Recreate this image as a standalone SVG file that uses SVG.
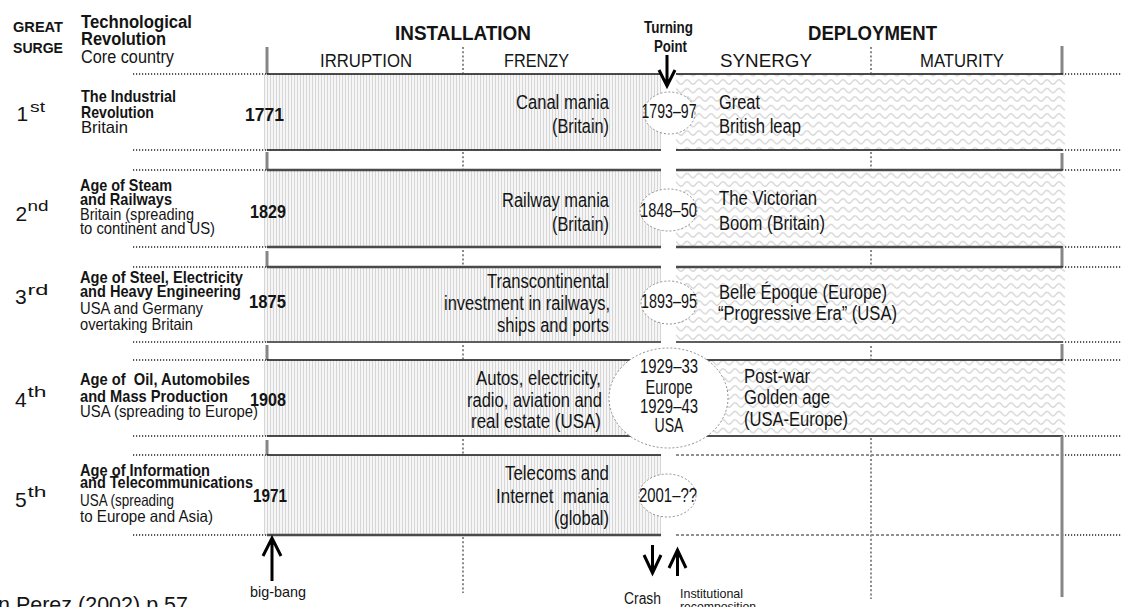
<svg xmlns="http://www.w3.org/2000/svg" width="1122" height="607" viewBox="0 0 1122 607">
  <style>
    .tx { font-family: 'Liberation Sans', Arial, Helvetica, sans-serif; fill: #141414; white-space: pre; }
    .b { font-weight: 700; }
    .hd { font-size: 18px; }
    .ph { font-size: 21px; }
    .sub { font-size: 19px; }
    .tp-l { font-size: 16px; font-weight: 700; }
    .ti { font-size: 17px; }
    .co { font-size: 16.5px; }
    .yr { font-size: 19px; }
    .bd { font-size: 20px; }
    .el { font-size: 20px; }
    .ord { font-size: 21px; }
    .sup { font-size: 15px; }
    .sm { font-size: 13px; }
    .mid { text-anchor: middle; }
    .end { text-anchor: end; }
    .ln-k { stroke: #111; stroke-width: 1.5; }
    .ln-g { stroke: #4a4a4a; stroke-width: 2.5; }
    .ln-m { stroke: #5e5e5e; stroke-width: 2; }
    .dot-h { stroke: #222; stroke-width: 1.4; stroke-dasharray: 1.2 1.8; }
    .dash-h { stroke: #222; stroke-width: 1.2; stroke-dasharray: 3 2; }
    .dot-v { stroke: #8a8a8a; stroke-width: 2; stroke-dasharray: 2 2.2; }
    .bar { stroke: #868686; stroke-width: 3; }
    .tp { fill: #fff; stroke: #8c8c8c; stroke-width: 1; stroke-dasharray: 2 2; }
    .arrow { fill: none; stroke: #000; stroke-width: 3; }
    .inst { fill: url(#stripes); }
    .depl { fill: url(#waves); }
  </style>
  <defs>
    <pattern id="stripes" x="0" y="0" width="3" height="8" patternUnits="userSpaceOnUse">
      <rect width="3" height="8" fill="#f6f6f6"/>
      <rect width="1" height="8" fill="#d6d6d6"/>
    </pattern>
    <pattern id="waves" x="0" y="0" width="12" height="8.5" patternUnits="userSpaceOnUse">
      <rect width="12" height="8.5" fill="#fff"/>
      <path d="M0 5.5 Q3 1 6 5.5 T12 5.5" fill="none" stroke="#d4d4d4" stroke-width="1.3" stroke-linecap="round"/>
    </pattern>
  </defs>

  <rect width="1122" height="607" fill="#fff"/>

  <!-- column headings -->
  <g id="header">
    <text class="tx b" x="13" y="32" font-size="15.5" textLength="50" lengthAdjust="spacingAndGlyphs">GREAT</text>
    <text class="tx b" x="13" y="53" font-size="15.5" textLength="50" lengthAdjust="spacingAndGlyphs">SURGE</text>
    <text class="tx b hd" x="81" y="28" textLength="111" lengthAdjust="spacingAndGlyphs">Technological</text>
    <text class="tx b hd" x="81" y="45" textLength="85" lengthAdjust="spacingAndGlyphs">Revolution</text>
    <text class="tx hd" x="81" y="63" textLength="93" lengthAdjust="spacingAndGlyphs">Core country</text>
    <text class="tx b ph" x="395" y="40" textLength="136" lengthAdjust="spacingAndGlyphs">INSTALLATION</text>
    <text class="tx b ph" x="808" y="40" textLength="129" lengthAdjust="spacingAndGlyphs">DEPLOYMENT</text>
    <text class="tx sub" x="320" y="67" textLength="92" lengthAdjust="spacingAndGlyphs">IRRUPTION</text>
    <text class="tx sub" x="504" y="67" textLength="65" lengthAdjust="spacingAndGlyphs">FRENZY</text>
    <text class="tx sub" x="720" y="67" textLength="92" lengthAdjust="spacingAndGlyphs">SYNERGY</text>
    <text class="tx sub" x="920" y="67" textLength="84" lengthAdjust="spacingAndGlyphs">MATURITY</text>
    <text class="tx tp-l" x="644" y="33" textLength="49" lengthAdjust="spacingAndGlyphs">Turning</text>
    <text class="tx tp-l" x="654" y="52" textLength="33" lengthAdjust="spacingAndGlyphs">Point</text>
    <line class="bar" x1="267" y1="47" x2="267" y2="74"/>
    <line class="bar" x1="1062" y1="46" x2="1062" y2="74"/>
    <line class="dot-v" x1="463" y1="47" x2="463" y2="73"/>
    <line class="dot-v" x1="871" y1="47" x2="871" y2="73"/>
  </g>

  <!-- 1st surge -->
  <g id="row-1">
    <rect class="inst" x="264" y="74" width="397" height="76"/>
    <rect class="depl" x="676" y="74" width="389" height="76"/>
    <path class="ln-k" d="M267 74H661M676 74H1062M267 150H661M676 150H1062"/>
    <path class="dot-h" d="M133 74H267M1062 74H1122M133 150H267M1062 150H1122"/>
    <text class="tx ord" x="16.5" y="120.5">1</text>
    <text class="tx sup" x="30" y="112" textLength="15" lengthAdjust="spacingAndGlyphs">st</text>
    <text class="tx b ti" x="81" y="102" textLength="95" lengthAdjust="spacingAndGlyphs">The Industrial</text>
    <text class="tx b ti" x="81" y="118" textLength="73" lengthAdjust="spacingAndGlyphs">Revolution</text>
    <text class="tx co" x="81" y="133" textLength="47" lengthAdjust="spacingAndGlyphs">Britain</text>
    <text class="tx b yr" x="245" y="121" textLength="39" lengthAdjust="spacingAndGlyphs">1771</text>
    <text class="tx bd end" x="609" y="109" textLength="93" lengthAdjust="spacingAndGlyphs">Canal mania</text>
    <text class="tx bd end" x="609" y="133" textLength="57" lengthAdjust="spacingAndGlyphs">(Britain)</text>
    <ellipse class="tp" cx="669.5" cy="113" rx="25.5" ry="21"/>
    <text class="tx el mid" x="669" y="118" textLength="55" lengthAdjust="spacingAndGlyphs">1793–97</text>
    <text class="tx bd" x="719" y="109" textLength="41" lengthAdjust="spacingAndGlyphs">Great</text>
    <text class="tx bd" x="719" y="133" textLength="82" lengthAdjust="spacingAndGlyphs">British leap</text>
  </g>

  <!-- gap between 1st and 2nd -->
  <g id="gap-1">
    <line class="bar" x1="267" y1="152" x2="267" y2="170"/>
    <line class="bar" x1="1062" y1="153" x2="1062" y2="170"/>
    <line class="dot-v" x1="463" y1="152" x2="463" y2="169"/>
    <line class="dot-v" x1="871" y1="152" x2="871" y2="169"/>
  </g>

  <!-- 2nd surge -->
  <g id="row-2">
    <rect class="inst" x="264" y="170" width="397" height="77"/>
    <rect class="depl" x="676" y="170" width="389" height="77"/>
    <path class="ln-g" d="M267 170H661M676 170H1062M267 247H661M676 247H1062"/>
    <path class="dot-h" d="M133 170H267M1062 170H1122M133 247H267M1062 247H1122"/>
    <text class="tx ord" x="15.5" y="221">2</text>
    <text class="tx sup" x="27.5" y="211" textLength="21" lengthAdjust="spacingAndGlyphs">nd</text>
    <text class="tx b ti" x="80" y="191" textLength="92" lengthAdjust="spacingAndGlyphs">Age of Steam</text>
    <text class="tx b ti" x="80" y="205" textLength="92" lengthAdjust="spacingAndGlyphs">and Railways</text>
    <text class="tx co" x="80" y="220" textLength="114" lengthAdjust="spacingAndGlyphs">Britain (spreading</text>
    <text class="tx co" x="80" y="234" textLength="135" lengthAdjust="spacingAndGlyphs">to continent and US)</text>
    <text class="tx b yr" x="250" y="218" textLength="36" lengthAdjust="spacingAndGlyphs">1829</text>
    <text class="tx bd end" x="609" y="207" textLength="107" lengthAdjust="spacingAndGlyphs">Railway mania</text>
    <text class="tx bd end" x="609" y="231" textLength="57" lengthAdjust="spacingAndGlyphs">(Britain)</text>
    <ellipse class="tp" cx="668.5" cy="210" rx="28.5" ry="21"/>
    <text class="tx el mid" x="668.5" y="217" textLength="57" lengthAdjust="spacingAndGlyphs">1848–50</text>
    <text class="tx bd" x="719" y="205" textLength="98" lengthAdjust="spacingAndGlyphs">The Victorian</text>
    <text class="tx bd" x="719" y="230" textLength="106" lengthAdjust="spacingAndGlyphs">Boom (Britain)</text>
  </g>

  <g id="gap-2">
    <line class="bar" x1="267" y1="251" x2="267" y2="267"/>
    <line class="bar" x1="1062" y1="248" x2="1062" y2="267"/>
    <line class="dot-v" x1="463" y1="250" x2="463" y2="266"/>
    <line class="dot-v" x1="871" y1="250" x2="871" y2="266"/>
  </g>

  <!-- 3rd surge -->
  <g id="row-3">
    <rect class="inst" x="264" y="267" width="397" height="75"/>
    <rect class="depl" x="676" y="267" width="389" height="75"/>
    <path class="ln-g" d="M267 267H661M676 267H1062"/>
    <path class="ln-m" d="M267 342H661M676 342H1062"/>
    <path class="dot-h" d="M133 267H267M1062 267H1122M133 342H267M1062 342H1122"/>
    <text class="tx ord" x="15" y="304">3</text>
    <text class="tx sup" x="27.5" y="295" textLength="21" lengthAdjust="spacingAndGlyphs">rd</text>
    <text class="tx b ti" x="80" y="283" textLength="163" lengthAdjust="spacingAndGlyphs">Age of Steel, Electricity</text>
    <text class="tx b ti" x="80" y="297" textLength="161" lengthAdjust="spacingAndGlyphs">and Heavy Engineering</text>
    <text class="tx co" x="80" y="314" textLength="123" lengthAdjust="spacingAndGlyphs">USA and Germany</text>
    <text class="tx co" x="80" y="330" textLength="113" lengthAdjust="spacingAndGlyphs">overtaking Britain</text>
    <text class="tx b yr" x="249" y="308" textLength="37" lengthAdjust="spacingAndGlyphs">1875</text>
    <text class="tx bd end" x="609" y="288" textLength="122" lengthAdjust="spacingAndGlyphs">Transcontinental</text>
    <text class="tx bd end" x="610" y="310" textLength="166" lengthAdjust="spacingAndGlyphs">investment in railways,</text>
    <text class="tx bd end" x="609" y="332" textLength="112" lengthAdjust="spacingAndGlyphs">ships and ports</text>
    <ellipse class="tp" cx="669" cy="302.5" rx="28" ry="21.5"/>
    <text class="tx el mid" x="669" y="308" textLength="56" lengthAdjust="spacingAndGlyphs">1893–95</text>
    <text class="tx bd" x="719" y="299" textLength="168" lengthAdjust="spacingAndGlyphs">Belle Époque (Europe)</text>
    <text class="tx bd" x="718" y="320" textLength="179" lengthAdjust="spacingAndGlyphs">“Progressive Era” (USA)</text>
  </g>

  <g id="gap-3">
    <line class="bar" x1="267" y1="345" x2="267" y2="360"/>
    <line class="bar" x1="1062" y1="344" x2="1062" y2="360"/>
    <line class="dot-v" x1="463" y1="345" x2="463" y2="359"/>
    <line class="dot-v" x1="871" y1="346" x2="871" y2="359"/>
  </g>

  <!-- 4th surge -->
  <g id="row-4">
    <rect class="inst" x="264" y="360" width="397" height="76"/>
    <rect class="depl" x="676" y="360" width="389" height="76"/>
    <path class="ln-k" d="M267 360H661M676 360H1062M267 436H661M676 436H1062"/>
    <path class="dot-h" d="M133 360H267M1062 360H1122M133 436H267M1062 436H1122"/>
    <text class="tx ord" x="15" y="407">4</text>
    <text class="tx sup" x="27.5" y="397" textLength="19" lengthAdjust="spacingAndGlyphs">th</text>
    <text class="tx b ti" x="80" y="385" textLength="170" lengthAdjust="spacingAndGlyphs">Age of  Oil, Automobiles</text>
    <text class="tx b ti" x="80" y="402" textLength="148" lengthAdjust="spacingAndGlyphs">and Mass Production</text>
    <text class="tx co" x="80" y="417" textLength="178" lengthAdjust="spacingAndGlyphs">USA (spreading to Europe)</text>
    <text class="tx b yr" x="250" y="406" textLength="36" lengthAdjust="spacingAndGlyphs">1908</text>
    <text class="tx bd end" x="601" y="385" textLength="125" lengthAdjust="spacingAndGlyphs">Autos, electricity,</text>
    <text class="tx bd end" x="602" y="407" textLength="135" lengthAdjust="spacingAndGlyphs">radio, aviation and</text>
    <text class="tx bd end" x="601" y="428" textLength="130" lengthAdjust="spacingAndGlyphs">real estate (USA)</text>
    <ellipse class="tp" cx="668.5" cy="398" rx="59.5" ry="50"/>
    <text class="tx el mid" x="669" y="373" textLength="58" lengthAdjust="spacingAndGlyphs">1929–33</text>
    <text class="tx el mid" x="669" y="394" textLength="47" lengthAdjust="spacingAndGlyphs">Europe</text>
    <text class="tx el mid" x="669" y="413" textLength="58" lengthAdjust="spacingAndGlyphs">1929–43</text>
    <text class="tx el mid" x="669" y="432" textLength="29" lengthAdjust="spacingAndGlyphs">USA</text>
    <text class="tx bd" x="744" y="383" textLength="66" lengthAdjust="spacingAndGlyphs">Post-war</text>
    <text class="tx bd" x="744" y="404" textLength="86" lengthAdjust="spacingAndGlyphs">Golden age</text>
    <text class="tx bd" x="744" y="426" textLength="104" lengthAdjust="spacingAndGlyphs">(USA-Europe)</text>
  </g>

  <g id="gap-4">
    <line class="bar" x1="267" y1="440" x2="267" y2="455"/>
    <line class="dot-v" x1="463" y1="439" x2="463" y2="454"/>
  </g>

  <!-- 5th surge -->
  <g id="row-5">
    <rect class="inst" x="264" y="455" width="397" height="80"/>
    <path class="ln-k" d="M267 455H661"/>
    <path class="ln-g" d="M267 535H661"/>
    <path class="dash-h" d="M676 455H1062M676 535H1062"/>
    <path class="dot-h" d="M133 455H267M1062 455H1122M133 535H267M1062 535H1122"/>
    <text class="tx ord" x="15" y="507">5</text>
    <text class="tx sup" x="27.5" y="497" textLength="19" lengthAdjust="spacingAndGlyphs">th</text>
    <text class="tx b ti" x="80" y="476" textLength="130" lengthAdjust="spacingAndGlyphs">Age of Information</text>
    <text class="tx b ti" x="80" y="488" textLength="173" lengthAdjust="spacingAndGlyphs">and Telecommunications</text>
    <text class="tx co" x="80" y="506" textLength="94" lengthAdjust="spacingAndGlyphs">USA (spreading</text>
    <text class="tx co" x="80" y="522" textLength="133" lengthAdjust="spacingAndGlyphs">to Europe and Asia)</text>
    <text class="tx b yr" x="253" y="502" textLength="34" lengthAdjust="spacingAndGlyphs">1971</text>
    <text class="tx bd end" x="609" y="480" textLength="104" lengthAdjust="spacingAndGlyphs">Telecoms and</text>
    <text class="tx bd end" x="609" y="503" textLength="113" lengthAdjust="spacingAndGlyphs">Internet  mania</text>
    <text class="tx bd end" x="609" y="525" textLength="55" lengthAdjust="spacingAndGlyphs">(global)</text>
    <ellipse class="tp" cx="667.5" cy="495.5" rx="28.5" ry="21.5"/>
    <text class="tx el mid" x="668" y="502" textLength="58" lengthAdjust="spacingAndGlyphs">2001–??</text>
  </g>

  <!-- phase boundaries below the last surge -->
  <g id="frame">
    <line class="bar" x1="1062" y1="436" x2="1062" y2="597"/>
    <line class="dot-v" x1="463" y1="537" x2="463" y2="593"/>
    <line class="dot-v" x1="871" y1="438" x2="871" y2="599"/>
  </g>

  <!-- event arrows -->
  <g id="connectors">
    <path class="arrow" d="M667 55V85M659 70L667 86L675 70"/>
    <path class="arrow" d="M272 581V539M263 556L272 538L281 556"/>
    <path class="arrow" d="M652.5 545V572M644 555L652.5 573L661 555"/>
    <path class="arrow" d="M677.5 576V551M669 568L677.5 550L686 568"/>
  </g>

  <g id="labels">
    <text class="tx" x="250" y="597" font-size="15" textLength="56" lengthAdjust="spacingAndGlyphs">big-bang</text>
    <text class="tx" x="624" y="604" font-size="16" textLength="37" lengthAdjust="spacingAndGlyphs">Crash</text>
    <text class="tx sm" x="680" y="598" textLength="63" lengthAdjust="spacingAndGlyphs">Institutional</text>
    <text class="tx sm" x="680" y="611" textLength="76" lengthAdjust="spacingAndGlyphs">recomposition</text>
    <text class="tx" x="-2" y="612" font-size="22" textLength="190" lengthAdjust="spacingAndGlyphs">n Perez (2002) p.57</text>
  </g>
</svg>
